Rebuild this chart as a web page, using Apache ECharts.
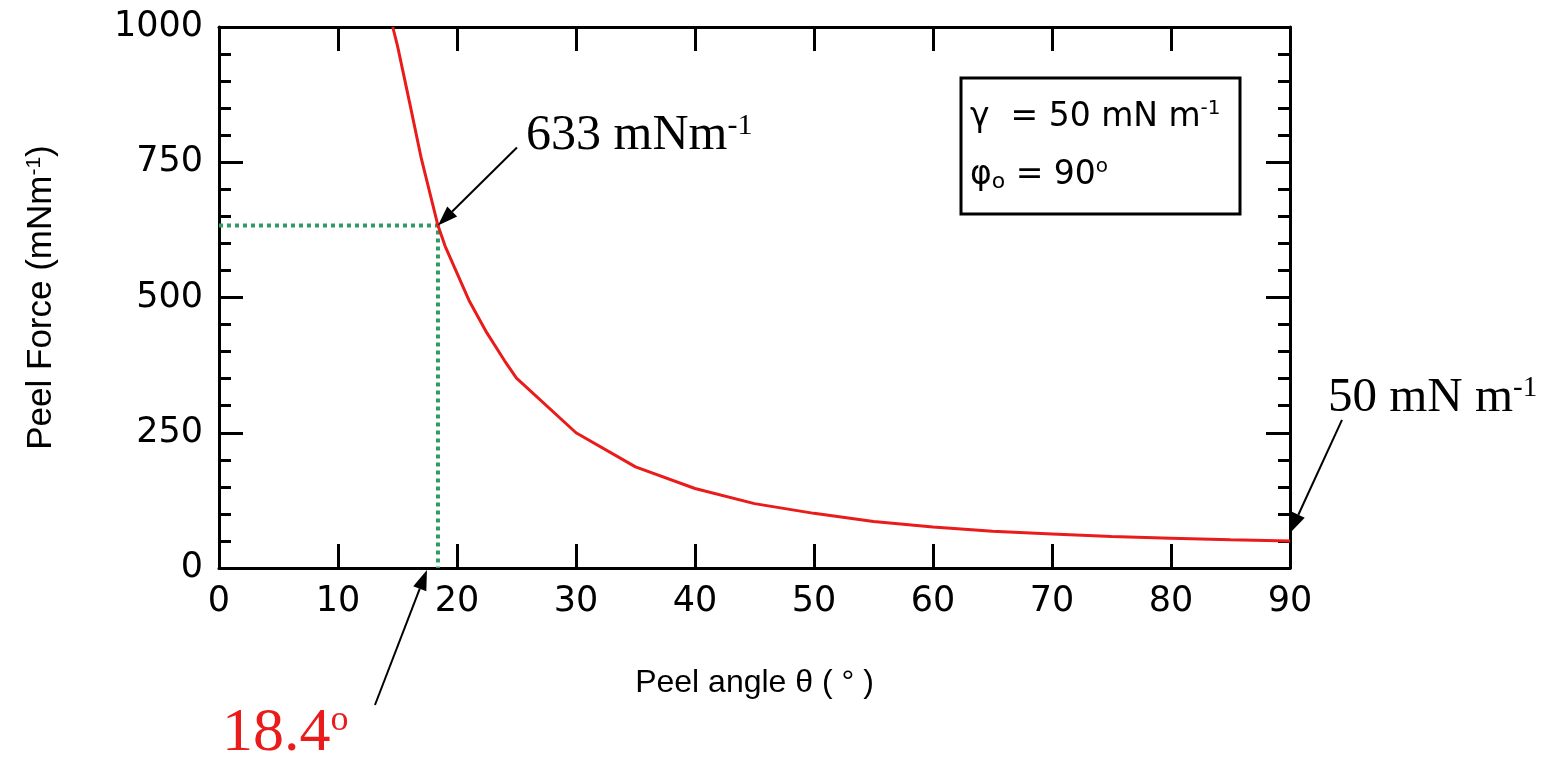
<!DOCTYPE html>
<html>
<head>
<meta charset="utf-8">
<script src="https://cdn.jsdelivr.net/npm/echarts@6/dist/echarts.min.js"></script>
<style>
  html, body { margin: 0; padding: 0; background: #fff; }
  #chart { width: 1566px; height: 761px; }
</style>
</head>
<body>
<div id="chart"></div>
<script>
// peel angle (deg) and peel force (mN/m)
const angle = [14.6, 15, 16, 17, 18.4, 19, 20, 21, 22.5, 24, 25, 30, 35, 40, 45, 50, 55, 60, 65, 70, 75, 80, 85, 90]
const peelForce = [1000, 965, 862, 757, 633, 595, 545, 495, 435, 383, 351, 250, 187, 147, 119, 101, 86, 76, 68, 63, 58, 55, 52, 50]

// guide lines to the 633 mN/m point
const guideX = [0, 18.4, 18.4]
const guideY = [633, 633, 0]

const xTicks = { min: 0, max: 90, interval: 10 }
const yTicks = { min: 0, max: 1000, interval: 250 }

// arrow tips in data units
const arrowTips = [[18.4, 633], [90, 50], [18.4, 0]]

const RED = '#ea1b1b'
const GREEN = '#2f9c66'
const tickFont = 'DejaVu Sans'
const titleFont = 'Liberation Sans'
const serif = 'Liberation Serif'

const chart = echarts.init(document.getElementById('chart'))

const axisLine = { show: true, onZero: false, lineStyle: { color: '#000', width: 3 } }
const tick = { show: true, inside: true, length: 24, lineStyle: { color: '#000', width: 3 } }
const minor = { show: true, splitNumber: 5, length: 12, lineStyle: { color: '#000', width: 3 } }
const tickLabel = { color: '#000', fontSize: 35, fontFamily: tickFont, formatter: (v) => String(v) }

chart.setOption({
  animation: false,
  backgroundColor: '#fff',
  grid: { left: 219, right: 276, top: 27, bottom: 193 },
  xAxis: [
    {
      type: 'value', ...xTicks, position: 'bottom',
      axisLine, axisTick: tick, splitLine: { show: false },
      axisLabel: { ...tickLabel, margin: 16 },
      name: 'Peel angle θ ( ° )',
      nameLocation: 'middle',
      nameGap: 99,
      nameTextStyle: { color: '#000', fontSize: 32, fontFamily: titleFont },
    },
    {
      type: 'value', ...xTicks, position: 'top',
      axisLine, axisTick: tick, splitLine: { show: false },
      axisLabel: { show: false },
    },
  ],
  yAxis: [
    {
      type: 'value', ...yTicks, position: 'left',
      axisLine, axisTick: tick, minorTick: minor, splitLine: { show: false },
      axisLabel: { ...tickLabel, margin: 16 },
      name: 'Peel Force (mNm{sup|-1})',
      nameLocation: 'middle',
      nameRotate: 90,
      nameGap: 160,
      nameTextStyle: {
        color: '#000', fontSize: 35, fontFamily: titleFont,
        rich: { sup: { fontSize: 21, fontFamily: titleFont, color: '#000', verticalAlign: 'top', padding: [0, 0, 14, 0] } },
      },
    },
    {
      type: 'value', ...yTicks, position: 'right',
      axisLine, axisTick: tick, minorTick: minor, splitLine: { show: false },
      axisLabel: { show: false },
    },
  ],
  series: [
    {
      // 绿色虚线：标记 18.4° 处的 633
      type: 'line',
      data: guideX.map((x, i) => [x, guideY[i]]),
      symbol: 'none',
      lineStyle: { color: GREEN, width: 4, type: [4, 4], cap: 'butt' },
      z: 2,
    },
    {
      type: 'line',
      data: angle.map((x, i) => [x, peelForce[i]]),
      symbol: 'none',
      lineStyle: { color: RED, width: 3 },
      z: 3,
    },
  ],
})

// annotation layout (pixels relative to the tips)
const tailOffsets = [[79, -78], [52, -113], [-52, 135]]
const tipNudges = [[0, 0], [0, -8], [-11, 2]]

const makeArrow = (tip, tail) => {
  const dx = tip[0] - tail[0]
  const dy = tip[1] - tail[1]
  const len = Math.hypot(dx, dy)
  const ux = dx / len
  const uy = dy / len
  const headLen = 20
  const headW = 7
  const bx = tip[0] - ux * headLen
  const by = tip[1] - uy * headLen
  return [
    {
      type: 'line',
      shape: { x1: tail[0], y1: tail[1], x2: bx, y2: by },
      style: { stroke: '#000', lineWidth: 2 },
      z: 10,
    },
    {
      type: 'polygon',
      shape: { points: [tip, [bx - uy * headW, by + ux * headW], [bx + uy * headW, by - ux * headW]] },
      style: { fill: '#000' },
      z: 10,
    },
  ]
}

const arrows = arrowTips.flatMap((p, i) => {
  const px = chart.convertToPixel({ gridIndex: 0 }, p)
  const tip = [px[0] + tipNudges[i][0], px[1] + tipNudges[i][1]]
  const tail = [tip[0] + tailOffsets[i][0], tip[1] + tailOffsets[i][1]]
  return makeArrow(tip, tail)
})

const serifText = (text, x, y, size, supSize, fill) => ({
  type: 'text',
  z: 10,
  style: {
    text, x, y, fill,
    font: `${size}px "${serif}"`,
    verticalAlign: 'middle',
    rich: {
      n: { fontSize: size, fontFamily: serif, fill, lineHeight: size },
      sup: { fontSize: supSize, fontFamily: serif, fill, verticalAlign: 'top', lineHeight: size },
    },
  },
})

const boxText = (text, x, y) => ({
  type: 'text',
  z: 10,
  style: {
    text, x, y, fill: '#000',
    font: `33px "${tickFont}"`,
    verticalAlign: 'middle',
    rich: {
      n: { fontSize: 33, fontFamily: tickFont, lineHeight: 36 },
      sup: { fontSize: 20, fontFamily: tickFont, verticalAlign: 'top', lineHeight: 36 },
      sub: { fontSize: 22, fontFamily: tickFont, verticalAlign: 'bottom', lineHeight: 36 },
    },
  },
})

chart.setOption({
  graphic: [
    ...arrows,
    serifText('{n|633 mNm}{sup|-1}', 526, 136, 50, 30, '#000'),
    serifText('{n|50 mN m}{sup|-1}', 1328, 398, 49, 29, '#000'),
    serifText('{n|18.4}{sup|o}', 222, 734, 62, 36, RED),
    {
      type: 'rect',
      shape: { x: 961, y: 78, width: 279, height: 136 },
      style: { fill: 'none', stroke: '#000', lineWidth: 3 },
      z: 10,
    },
    boxText('{n|γ  = 50 mN m}{sup|-1}', 970, 117),
    boxText('{n|φ}{sub|o}{n| = 90}{sup|o}', 970, 175),
  ],
})
</script>
</body>
</html>
